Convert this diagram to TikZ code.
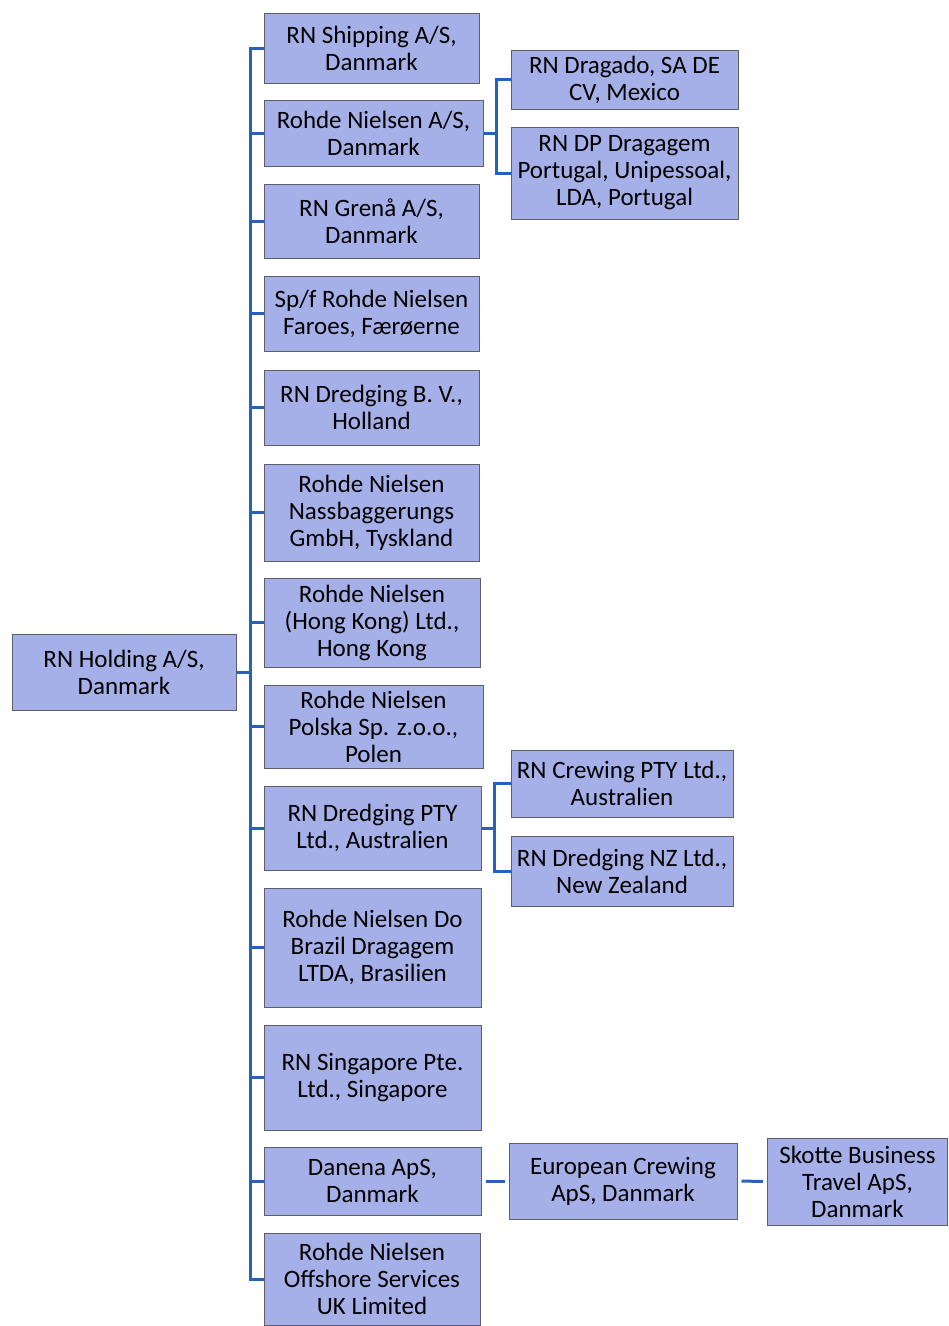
\documentclass[tikz,border=0pt]{standalone}
\usepackage{fontspec}
\setmainfont{Carlito}
\definecolor{boxfill}{RGB}{166,176,232}
\definecolor{boxline}{RGB}{95,95,105}
\definecolor{linkblue}{RGB}{38,98,188}
\begin{document}
\begin{tikzpicture}[x=1pt,y=-1pt,
  firm/.style={draw=boxline,line width=1pt,fill=boxfill,align=center,inner sep=0pt,
    font=\fontsize{25}{27}\selectfont},
  link/.style={draw=linkblue,line width=3pt}]
\useasboundingbox (0,0) rectangle (949,1326);
% parent
\node[firm,minimum width=224,minimum height=76] (holding) at (124,672) {RN Holding A/S,\\Danmark};
% first level
\node[firm,minimum width=215,minimum height=70] (ship) at (371.5,48) {RN Shipping A/S,\\Danmark};
\node[firm,minimum width=219,minimum height=66] (rnas) at (373.5,133) {Rohde Nielsen A/S,\\Danmark};
\node[firm,minimum width=215,minimum height=74] (grena) at (371.5,221) {RN Grenå A/S,\\Danmark};
\node[firm,minimum width=215,minimum height=75] (faroes) at (371.5,313.5) {Sp/f Rohde Nielsen\\Faroes, Færøerne};
\node[firm,minimum width=215,minimum height=75] (holland) at (371.5,407.5) {RN Dredging B. V.,\\Holland};
\node[firm,minimum width=215,minimum height=97] (tysk) at (371.5,512.5) {Rohde Nielsen\\Nassbaggerungs\\GmbH, Tyskland};
\node[firm,minimum width=216,minimum height=89] (hk) at (372,622.5) {Rohde Nielsen\\(Hong Kong) Ltd.,\\Hong Kong};
\node[firm,minimum width=219,minimum height=83] (polen) at (373.5,726.5) {Rohde Nielsen\\Polska Sp. z.o.o.,\\Polen};
\node[firm,minimum width=217,minimum height=84] (aus) at (372.5,828) {RN Dredging PTY\\Ltd., Australien};
\node[firm,minimum width=217,minimum height=119] (brazil) at (372.5,947.5) {Rohde Nielsen Do\\Brazil Dragagem\\LTDA, Brasilien};
\node[firm,minimum width=217,minimum height=105] (sing) at (372.5,1077.5) {RN Singapore Pte.\\Ltd., Singapore};
\node[firm,minimum width=217,minimum height=68] (danena) at (372.5,1181) {Danena ApS,\\Danmark};
\node[firm,minimum width=216,minimum height=92] (uk) at (372,1279) {Rohde Nielsen\\Offshore Services\\UK Limited};
% second level
\node[firm,minimum width=227,minimum height=59] (mex) at (624.5,79.5) {RN Dragado, SA DE\\CV, Mexico};
\node[firm,minimum width=227,minimum height=92] (port) at (624.5,173) {RN DP Dragagem\\Portugal, Unipessoal,\\LDA, Portugal};
\node[firm,minimum width=222,minimum height=67] (crew) at (622,783.5) {RN Crewing PTY Ltd.,\\Australien};
\node[firm,minimum width=222,minimum height=70] (nz) at (622,871) {RN Dredging NZ Ltd.,\\New Zealand};
\node[firm,minimum width=228,minimum height=76] (euro) at (623,1181) {European Crewing\\ApS, Danmark};
\node[firm,minimum width=180,minimum height=87] (skotte) at (857.5,1181.5) {Skotte Business\\Travel ApS,\\Danmark};
% brackets
\coordinate (trunk) at (250,0);
\coordinate (subA) at (496,0);
\coordinate (subB) at (494,0);
\draw[link] (ship.west) -- (trunk |- ship.west) -- (trunk |- uk.west) -- (uk.west);
\foreach \n in {rnas,grena,faroes,holland,tysk,hk,polen,aus,brazil,sing,danena}
  \draw[link] (trunk |- \n.west) -- (\n.west);
\draw[link] (holding.east) -- (trunk |- holding.east);
\draw[link] (rnas.east) -- (subA |- rnas.east);
\draw[link] (mex.west) -- (subA |- mex.west) -- (subA |- port.west) -- (port.west);
\draw[link] (aus.east) -- (subB |- aus.east);
\draw[link] (crew.west) -- (subB |- crew.west) -- (subB |- nz.west) -- (nz.west);
\draw[link,shorten <=4pt,shorten >=4pt] (danena.east) -- (euro.west);
\draw[link,shorten <=4pt,shorten >=4pt] (euro.east) -- (skotte.west);
\end{tikzpicture}
\end{document}
